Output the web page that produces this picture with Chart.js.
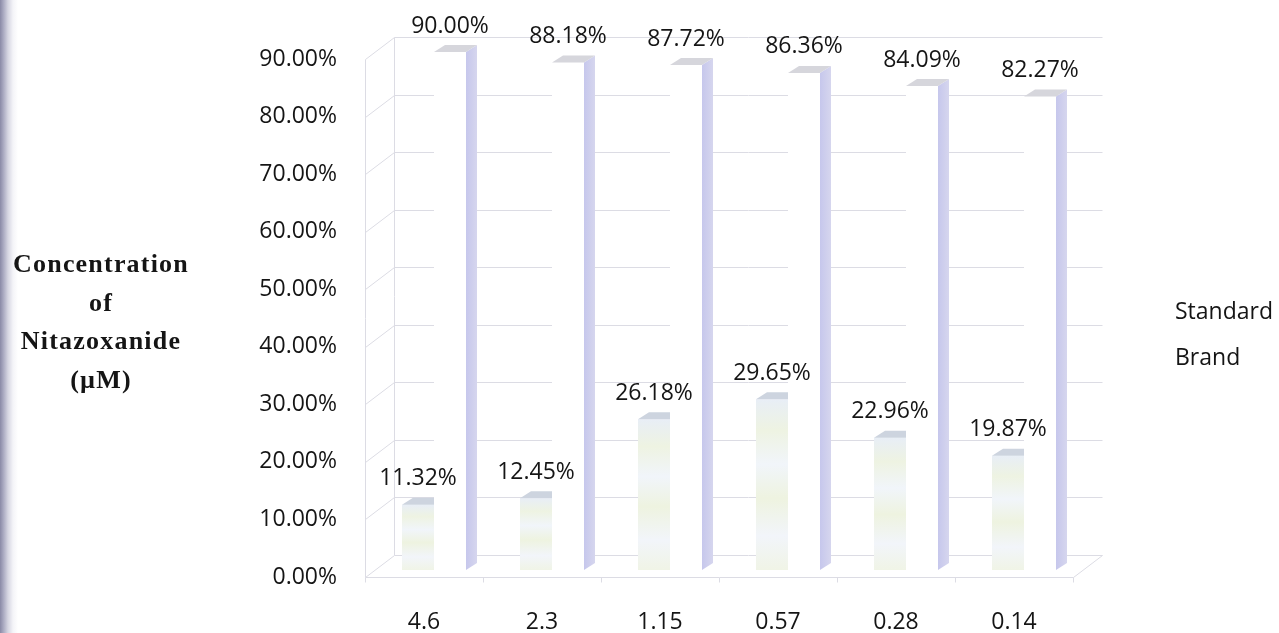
<!DOCTYPE html>
<html>
<head>
<meta charset="utf-8">
<script src="https://cdn.jsdelivr.net/npm/chart.js@4.4.1/dist/chart.umd.min.js"></script>
<style>
  html, body {
    margin: 0; padding: 0; width: 1279px; height: 633px; overflow: hidden;
    background: linear-gradient(to right, #8a8aa6 0px, #a6a6be 3px, #d6d6e2 8px, #f4f4f8 13px, #ffffff 18px);
  }
  #wrap { position: relative; width: 1279px; height: 633px; }
  canvas { display: block; }
</style>
</head>
<body>
<div id="wrap"><canvas id="chart" width="1279" height="633"></canvas></div>
<script>
// Nitazoxanide concentrations (µM) along the category axis
const categories = ['4.6', '2.3', '1.15', '0.57', '0.28', '0.14'];
// Inhibition fractions per concentration
const brandValues = [0.1132, 0.1245, 0.2618, 0.2965, 0.2296, 0.1987];
const standardValues = [0.9000, 0.8818, 0.8772, 0.8636, 0.8409, 0.8227];
// Value axis ticks
const yTicks = [0, 0.1, 0.2, 0.3, 0.4, 0.5, 0.6, 0.7, 0.8, 0.9];
const legendNames = ['Standard', 'Brand'];
const yTitleLines = ['Concentration', 'of', 'Nitazoxanide', '(µM)'];

const FONT = '"Open Sans", "Noto Sans", sans-serif';
const FONT_SIZE = 23;
const FONT_WEIGHT = 500;
const TEXT = '#151515';
const GRID = '#dcdce4';
// 3D look: back wall offset, bar offset, bar depth
const WALL = { dx: 29, dy: -22 };
const BAR = { dx: 10, dy: -7 };
const DEPTH = { dx: 11, dy: -7 };

const pct = v => (v * 100).toFixed(2) + '%';

function line(ctx, x1, y1, x2, y2) {
  ctx.beginPath();
  ctx.moveTo(x1, y1);
  ctx.lineTo(x2, y2);
  ctx.stroke();
}

// Back wall, side wall and floor of the 3D frame
const wallPlugin = {
  id: 'wall',
  beforeDatasetsDraw(chart) {
    const { ctx, chartArea: a, scales: { y } } = chart;
    ctx.save();
    ctx.strokeStyle = GRID;
    ctx.lineWidth = 1;
    const L = a.left + 0.5, R = a.right + 0.5;
    yTicks.forEach(v => {
      const py = Math.round(y.getPixelForValue(v)) + 0.5;
      line(ctx, L, py, L + WALL.dx, py + WALL.dy);
      line(ctx, L + WALL.dx, py + WALL.dy, R + WALL.dx, py + WALL.dy);
    });
    const yTop = Math.round(y.getPixelForValue(yTicks[yTicks.length - 1])) + 0.5;
    const yBase = Math.round(y.getPixelForValue(0)) + 0.5;
    line(ctx, L, yTop, L, yBase);
    line(ctx, L + WALL.dx, yTop + WALL.dy, L + WALL.dx, yBase + WALL.dy);
    // floor front edge, right edge and category tick marks
    line(ctx, L, yBase, R, yBase);
    line(ctx, R, yBase, R + WALL.dx, yBase + WALL.dy);
    const step = (a.right - a.left) / categories.length;
    for (let i = 0; i <= categories.length; i++) {
      const x = Math.round(a.left + i * step) + 0.5;
      line(ctx, x, yBase, x, yBase + 5);
    }
    ctx.restore();
    // shift the bars into the middle of the depth
    ctx.save();
    ctx.translate(BAR.dx, BAR.dy);
  },
  afterDatasetsDraw(chart) {
    const { ctx } = chart;
    const brandMeta = chart.getDatasetMeta(0);
    const stdMeta = chart.getDatasetMeta(1);
    // Brand caps (right part hidden behind the neighbouring Standard bar)
    brandMeta.data.forEach(b => {
      const l = b.x - b.width / 2, r = b.x + b.width / 2;
      ctx.fillStyle = '#cdd4df';
      ctx.beginPath();
      ctx.moveTo(l, b.y);
      ctx.lineTo(r, b.y);
      ctx.lineTo(r, b.y + DEPTH.dy);
      ctx.lineTo(l + DEPTH.dx, b.y + DEPTH.dy);
      ctx.closePath();
      ctx.fill();
    });
    // Standard side faces and caps
    stdMeta.data.forEach(b => {
      const l = b.x - b.width / 2, r = b.x + b.width / 2;
      const g = ctx.createLinearGradient(r, 0, r + DEPTH.dx, 0);
      g.addColorStop(0, '#c6c7ec');
      g.addColorStop(1, '#d6d6ee');
      ctx.fillStyle = g;
      ctx.beginPath();
      ctx.moveTo(r, b.y);
      ctx.lineTo(r + DEPTH.dx, b.y + DEPTH.dy);
      ctx.lineTo(r + DEPTH.dx, b.base + DEPTH.dy);
      ctx.lineTo(r, b.base);
      ctx.closePath();
      ctx.fill();
      ctx.fillStyle = '#d6d6dc';
      ctx.beginPath();
      ctx.moveTo(l, b.y);
      ctx.lineTo(r, b.y);
      ctx.lineTo(r + DEPTH.dx, b.y + DEPTH.dy);
      ctx.lineTo(l + DEPTH.dx, b.y + DEPTH.dy);
      ctx.closePath();
      ctx.fill();
    });
    ctx.restore();
  }
};

// Value labels, legend text and the horizontal value-axis title
const textPlugin = {
  id: 'texts',
  afterDraw(chart) {
    const { ctx, scales: { y } } = chart;
    ctx.save();
    ctx.fillStyle = TEXT;
    ctx.font = FONT_WEIGHT + ' ' + FONT_SIZE + 'px ' + FONT;
    ctx.textAlign = 'center';
    ctx.textBaseline = 'middle';
    [0, 1].forEach(di => {
      const meta = chart.getDatasetMeta(di);
      const vals = chart.data.datasets[di].data;
      meta.data.forEach((b, i) => {
        ctx.fillText(pct(vals[i]), b.x + BAR.dx, y.getPixelForValue(vals[i]) - 33);
      });
    });
    // legend
    ctx.textAlign = 'left';
    legendNames.forEach((n, i) => ctx.fillText(n, 1175, 312 + i * 46));
    // axis title
    ctx.font = 'bold 26px "Liberation Serif", "DejaVu Serif", serif';
    ctx.textAlign = 'center';
    ctx.textBaseline = 'alphabetic';
    if ('letterSpacing' in ctx) ctx.letterSpacing = '1.2px';
    yTitleLines.forEach((t, i) => ctx.fillText(t, 101, 272 + i * 38.7));
    ctx.restore();
  }
};

function brandFill(c) {
  const chart = c.chart;
  const y = chart.scales && chart.scales.y;
  if (!y || c.dataIndex === undefined) return '#eef3e2';
  const top = y.getPixelForValue(brandValues[c.dataIndex]);
  const base = y.getPixelForValue(0);
  if (!isFinite(top) || !isFinite(base) || base - top < 1) return '#eef3e2';
  const g = chart.ctx.createLinearGradient(0, top, 0, base);
  g.addColorStop(0, '#e8eef6');
  g.addColorStop(0.18, '#eef3e2');
  g.addColorStop(0.38, '#f1f5fa');
  g.addColorStop(0.58, '#eef3e0');
  g.addColorStop(0.8, '#f2f5fa');
  g.addColorStop(1, '#f0f4e6');
  return g;
}

const tickFont = { family: FONT, size: FONT_SIZE, weight: FONT_WEIGHT };

new Chart(document.getElementById('chart'), {
  type: 'bar',
  data: {
    labels: categories,
    datasets: [
      { label: 'Brand', data: brandValues, backgroundColor: brandFill, borderWidth: 0,
        categoryPercentage: 0.5424, barPercentage: 1, clip: false },
      { label: 'Standard', data: standardValues, backgroundColor: '#ffffff', borderWidth: 0,
        categoryPercentage: 0.5424, barPercentage: 1, clip: false }
    ]
  },
  options: {
    responsive: false,
    animation: false,
    devicePixelRatio: 1,
    layout: { padding: { top: 59, right: 206, bottom: 0, left: 0 } },
    plugins: { legend: { display: false }, tooltip: { enabled: false } },
    scales: {
      x: {
        grid: { display: false, drawTicks: false },
        border: { display: false },
        ticks: { color: TEXT, font: tickFont, padding: 32, maxRotation: 0 },
        afterFit(s) { s.height = 56; }
      },
      y: {
        min: 0, max: 0.9,
        afterBuildTicks(s) { s.ticks = yTicks.map(v => ({ value: v })); },
        grid: { display: false, drawTicks: false },
        border: { display: false },
        ticks: { color: TEXT, font: tickFont, padding: 28, callback: v => pct(v) },
        afterFit(s) { s.width = 365; }
      }
    }
  },
  plugins: [wallPlugin, textPlugin]
});
</script>
</body>
</html>
